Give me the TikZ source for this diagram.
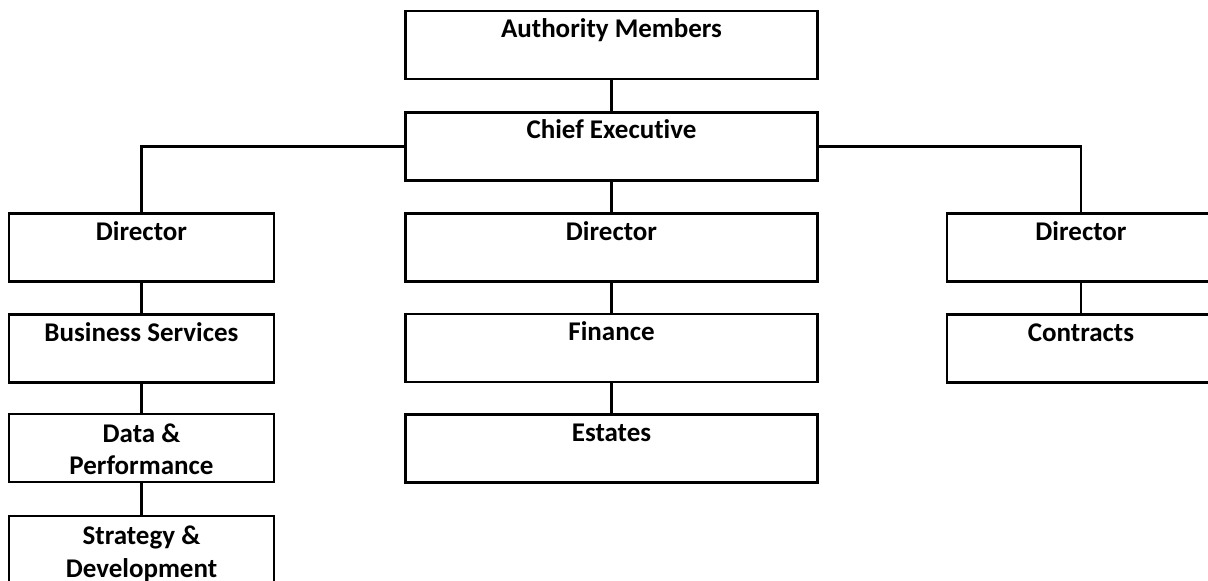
\documentclass[tikz,border=0pt]{standalone}
\usepackage{fontspec}
\setmainfont{Carlito}[Ligatures=CommonOff]
\usetikzlibrary{calc}
\begin{document}
\begin{tikzpicture}[x=1pt,y=-1pt,
  box/.style={draw=black,fill=white,line width=2.2pt,inner sep=0pt,minimum height=68pt},
  cbox/.style={box,minimum width=412pt},
  lbox/.style={box,minimum width=265pt},
  rbox/.style={box,minimum width=268pt},
  lbl/.style={anchor=base,inner sep=0pt,font=\fontsize{27}{32.5}\selectfont\bfseries},
  conn/.style={line width=2.2pt}]
\useasboundingbox (0,0) rectangle (1208,581);
\clip (0,0) rectangle (1208,581);
\fill[white] (0,0) rectangle (1208,581);
% boxes
\node[cbox] (am) at (611.5,45) {};
\node[cbox] (ce) at (611.5,146.5) {};
\node[lbox] (ldir) at (141.5,247.5) {};
\node[lbox] (bs) at (141.5,348.5) {};
\node[lbox] (dp) at (141.5,448) {};
\node[lbox] (sd) at (141.5,550) {};
\node[cbox] (cdir) at (611.5,247.5) {};
\node[cbox] (fin) at (611.5,348) {};
\node[cbox] (est) at (611.5,448.5) {};
\node[rbox] (rdir) at (1081,247.5) {};
\node[rbox] (con) at (1081,348.5) {};
% connectors
\draw[conn] (am.south) -- (ce.north);
\draw[conn] (ldir.north) |- (ce.west);
\draw[conn] (ce.east) -| (rdir.north);
\draw[conn] (ce.south) -- (cdir.north);
\draw[conn] (ldir.south) -- (bs.north);
\draw[conn] (bs.south) -- (dp.north);
\draw[conn] (dp.south) -- (sd.north);
\draw[conn] (cdir.south) -- (fin.north);
\draw[conn] (fin.south) -- (est.north);
\draw[conn] (rdir.south) -- (con.north);
% labels
\node[lbl] (tam) at ($(am.north)+(0,27.5)$) {\begin{tabular}[t]{@{}c@{}}Authority Members\end{tabular}};
\node[lbl] (tce) at ($(ce.north)+(0,27.5)$) {\begin{tabular}[t]{@{}c@{}}Chief Executive\end{tabular}};
\node[lbl] (tldir) at ($(ldir.north)+(0,28)$) {\begin{tabular}[t]{@{}c@{}}Director\end{tabular}};
\node[lbl] (tcdir) at ($(cdir.north)+(0,28)$) {\begin{tabular}[t]{@{}c@{}}Director\end{tabular}};
\node[lbl] (trdir) at ($(rdir.north)+(0,28)$) {\begin{tabular}[t]{@{}c@{}}Director\end{tabular}};
\node[lbl] (tbs) at ($(bs.north)+(0,28)$) {\begin{tabular}[t]{@{}c@{}}Business Services\end{tabular}};
\node[lbl] (tfin) at ($(fin.north)+(0,28)$) {\begin{tabular}[t]{@{}c@{}}Finance\end{tabular}};
\node[lbl] (tcon) at ($(con.north)+(0,28)$) {\begin{tabular}[t]{@{}c@{}}Contracts\end{tabular}};
\node[lbl] (test) at ($(est.north)+(0,28)$) {\begin{tabular}[t]{@{}c@{}}Estates\end{tabular}};
\node[lbl] (tdp) at ($(dp.north)+(0,29.5)$) {\begin{tabular}[t]{@{}c@{}}Data \&\\Performance\end{tabular}};
\node[lbl] (tsd) at ($(sd.north)+(0,30)$) {\begin{tabular}[t]{@{}c@{}}Strategy \&\\Development\end{tabular}};
\end{tikzpicture}
\end{document}
